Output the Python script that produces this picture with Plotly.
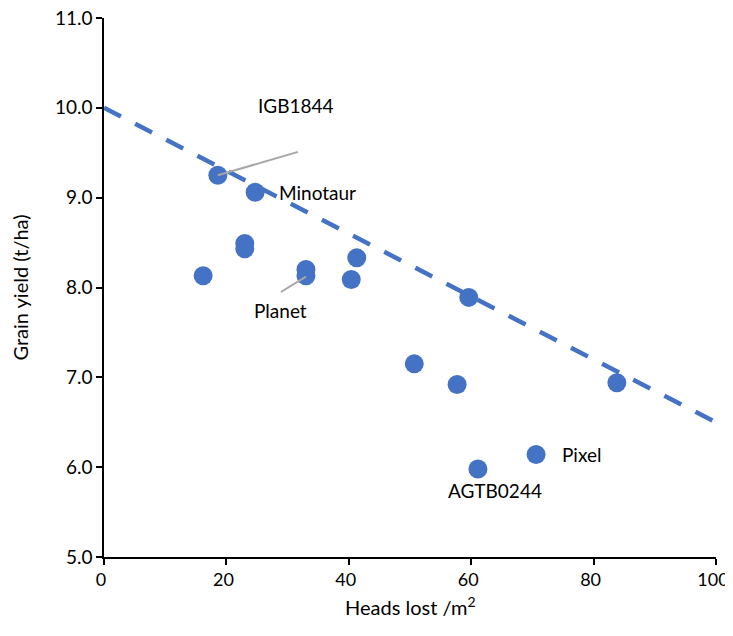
import plotly.graph_objects as go

# Data
heads_lost = [18.6, 24.7, 23.0, 23.0, 16.2, 33.0, 33.0, 41.3, 40.4, 59.6, 50.7, 57.7, 83.8, 70.6, 61.1]
grain_yield = [9.25, 9.06, 8.49, 8.43, 8.13, 8.20, 8.13, 8.33, 8.09, 7.89, 7.15, 6.92, 6.94, 6.14, 5.98]

trend_x = [0, 100]
trend_y = [10.0, 6.5]

labels = ["IGB1844", "Minotaur", "Planet", "AGTB0244", "Pixel"]
label_x = [31.4, 28.3, 28.9, 63.9, 74.5]
label_y = [10.03, 9.06, 7.74, 5.74, 6.14]
label_anchor = ["center", "left", "center", "center", "left"]

# leader lines: (from point) -> (toward label)
leader_from = [(18.6, 9.25), (33.0, 8.12)]
leader_to = [(31.7, 9.51), (28.9, 7.95)]

blue = "#4472C4"
font = "Lato, 'Open Sans', sans-serif"

fig = go.Figure()
fig.add_trace(go.Scatter(
    x=trend_x, y=trend_y, mode="lines",
    line=dict(color=blue, width=4.5, dash="19px,16px"),
    hoverinfo="skip", showlegend=False))
fig.add_trace(go.Scatter(
    x=heads_lost, y=grain_yield, mode="markers",
    marker=dict(color=blue, size=19),
    showlegend=False))

for (x0, y0), (x1, y1) in zip(leader_from, leader_to):
    fig.add_shape(type="line", x0=x0, y0=y0, x1=x1, y1=y1,
                  line=dict(color="#A6A6A6", width=2), layer="above")

for t, x, y, a in zip(labels, label_x, label_y, label_anchor):
    fig.add_annotation(x=x, y=y, text=t, showarrow=False, xanchor=a,
                       yanchor="middle", font=dict(size=19, color="#000000", family=font))

# x-axis title placed as a paper annotation for exact positioning
fig.add_annotation(x=0.5, y=-0.09, xref="paper", yref="paper",
                   text="Heads lost /m<sup>2</sup>", showarrow=False,
                   xanchor="center", yanchor="middle",
                   font=dict(size=20, color="#000000", family=font))

# The page body adds an 8px margin; margins are shifted to compensate
fig.update_layout(
    width=725, height=628,
    margin=dict(l=96, r=17, t=10, b=79),
    plot_bgcolor="white", paper_bgcolor="white",
    font=dict(family=font, size=19, color="#000000"),
)
fig.update_xaxes(
    range=[0, 100], tickvals=[0, 20, 40, 60, 80, 100], automargin=False,
    ticklabeloverflow="allow", ticklabelshift=-3,
    showgrid=False, zeroline=False, showline=True, linecolor="#000000", linewidth=1.5,
    ticks="outside", ticklen=6, tickcolor="#000000", tickwidth=1.5,
    tickfont=dict(size=18),
)
fig.update_yaxes(
    range=[5, 11], tickvals=[5, 6, 7, 8, 9, 10, 11], tickformat=".1f", automargin=False,
    ticklabeloverflow="allow",
    showgrid=False, zeroline=False, showline=True, linecolor="#000000", linewidth=1.5,
    ticks="outside", ticklen=6, tickcolor="#000000", tickwidth=1.5,
    tickfont=dict(size=19),
    title=dict(text="Grain yield (t/ha)", font=dict(size=20), standoff=26),
)

fig.write_html("out.html")
